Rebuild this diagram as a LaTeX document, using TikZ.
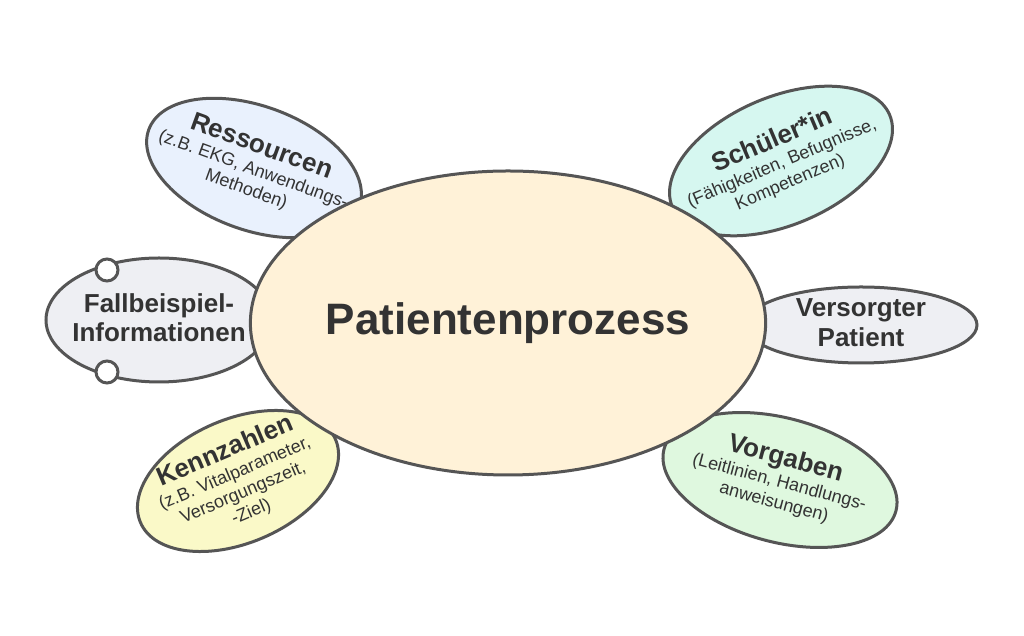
\documentclass[tikz,border=0pt]{standalone}
\usepackage{fontspec}
\setmainfont{Liberation Sans}
\usetikzlibrary{shapes.geometric}

\definecolor{linegrey}{HTML}{555555}
\definecolor{textgrey}{HTML}{333333}
\definecolor{fillpeach}{HTML}{FFF2D8}
\definecolor{fillblue}{HTML}{E9F1FD}
\definecolor{fillcyan}{HTML}{D6F7F0}
\definecolor{fillgrey}{HTML}{EEEFF3}
\definecolor{fillyellow}{HTML}{FAF9C8}
\definecolor{fillgreen}{HTML}{DFF8DF}

\newcommand{\bubbletext}[1]{\smash{\makebox[0pt]{\raisebox{-5pt}{\begin{tabular}{@{}c@{}}#1\end{tabular}}}}}
\newcommand{\headfont}{\fontsize{26}{30}\selectfont\bfseries}

\tikzset{
	bubble/.style={ellipse, draw=linegrey, line width=3pt, inner sep=0pt, text=textgrey,
		font=\fontsize{18}{21}\selectfont},
	knob/.style={circle, draw=linegrey, line width=3pt, fill=white, inner sep=0pt, minimum size=22pt}
}

\begin{document}
\begin{tikzpicture}[x=1pt,y=1pt]
	\fill[white] (0,0) rectangle (1024,636);
	\useasboundingbox (0,0) rectangle (1024,636);
	
	%outer bubbles
	\node[bubble, fill=fillblue, rotate=-20, minimum width=224pt, minimum height=124pt] (res) at (254,468)
		{\bubbletext{{\headfont Ressourcen}\\[1pt] (z.B. EKG, Anwendungs-\\ Methoden)}};
	\node[bubble, fill=fillcyan, rotate=23, minimum width=236pt, minimum height=128pt] (sch) at (781,475)
		{\bubbletext{{\headfont Schüler*in}\\[1pt] (Fähigkeiten, Befugnisse,\\ Kompetenzen)}};
	\node[bubble, fill=fillgrey, minimum width=226pt, minimum height=124pt] (fall) at (159,316)
		{\bubbletext{{\headfont Fallbeispiel-}\\[4pt] {\headfont Informationen}}};
	\node[bubble, fill=fillgrey, minimum width=232pt, minimum height=76pt] (vers) at (861,311)
		{\bubbletext{{\headfont Versorgter}\\[4pt] {\headfont Patient}}};
	\node[bubble, fill=fillyellow, rotate=23, minimum width=212pt, minimum height=124pt] (kenn) at (238,155)
		{\bubbletext{{\headfont Kennzahlen}\\[1pt] (z.B. Vitalparameter,\\ Versorgungszeit,\\ -Ziel)}};
	\node[bubble, fill=fillgreen, rotate=-15, minimum width=240pt, minimum height=124pt] (vorg) at (780,156)
		{\bubbletext{{\headfont Vorgaben}\\[1pt] (Leitlinien, Handlungs-\\ anweisungen)}};
	
	%knobs
	\node[knob] (fall-top) at (107,366) {};
	\node[knob] (fall-bot) at (107,264) {};
	
	%centre
	\node[bubble, fill=fillpeach, minimum width=512pt, minimum height=304pt,
		font=\fontsize{44}{50}\selectfont\bfseries] (pp) at (508,313) {Patientenprozess};
\end{tikzpicture}
\end{document}
